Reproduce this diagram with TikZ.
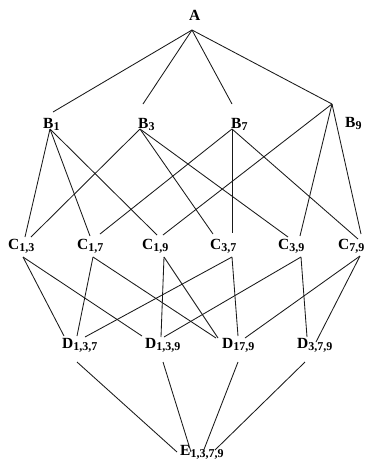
\documentclass[tikz,border=0pt]{standalone}
\usepackage{fontspec}
\setmainfont{Liberation Serif}
\newcommand\lbl[2]{\textbf{#1}\raisebox{-0.3ex}{\fontsize{12}{12}\selectfont\textbf{#2}}}
\begin{document}
\begin{tikzpicture}[x=1pt,y=-1pt,
  lab/.style={anchor=base west,inner sep=0pt,font=\fontsize{15.5}{15.5}\selectfont},
  edge/.style={draw=black!90,line width=0.85pt}]
\useasboundingbox (0,0) rectangle (367,464);
% labels
\node[lab] (A) at (189,20) {\textbf{A}};
\node[lab] (B1) at (43,128) {\lbl{B}{1}};
\node[lab] (B3) at (138,128) {\lbl{B}{3}};
\node[lab] (B7) at (231,128) {\lbl{B}{7}};
\node[lab] (B9) at (345,127) {\lbl{B}{9}};
\node[lab] (C13) at (8,249) {\lbl{C}{1,3}};
\node[lab] (C17) at (77,249) {\lbl{C}{1,7}};
\node[lab] (C19) at (142,249) {\lbl{C}{1,9}};
\node[lab] (C37) at (210,249) {\lbl{C}{3,7}};
\node[lab] (C39) at (278,249) {\lbl{C}{3,9}};
\node[lab] (C79) at (338,249) {\lbl{C}{7,9}};
\node[lab] (D137) at (62,348) {\lbl{D}{1,3,7}};
\node[lab] (D139) at (145,348) {\lbl{D}{1,3,9}};
\node[lab] (D179) at (222,348) {\lbl{D}{17,9}};
\node[lab] (D379) at (297,348) {\lbl{D}{3,7,9}};
\node[lab] (E) at (180,455) {\lbl{E}{1,3,7,9}};
% connector end points
\coordinate (a) at (192,30);
\coordinate (b1t) at (53,112); \coordinate (b1b) at (50,129);
\coordinate (b3t) at (143,104); \coordinate (b3b) at (140,129);
\coordinate (b7t) at (232,104); \coordinate (b7b) at (232,129);
\coordinate (b9) at (332,104);
\coordinate (c13t) at (25,237); \coordinate (c13u) at (31,237); \coordinate (c13b) at (23,257);
\coordinate (c17t) at (90,236); \coordinate (c17u) at (100,234); \coordinate (c17b) at (93,257);
\coordinate (c19t) at (157,235); \coordinate (c19u) at (163,235); \coordinate (c19b) at (164,257);
\coordinate (c37t) at (213,234); \coordinate (c37u) at (232,233); \coordinate (c37b) at (232,257);
\coordinate (c39t) at (288,237); \coordinate (c39u) at (300,236); \coordinate (c39b) at (301,257);
\coordinate (c79t) at (358,239); \coordinate (c79u) at (361,234); \coordinate (c79b) at (360,256);
\coordinate (d137a) at (64,336); \coordinate (d137b) at (77,336); \coordinate (d137c) at (85,337);
\coordinate (d139a) at (142,336); \coordinate (d139b) at (161,337); \coordinate (d139c) at (164,337);
\coordinate (d179a) at (216,338); \coordinate (d179b) at (218,338); \coordinate (d179c) at (238,336); \coordinate (d179d) at (245,338);
\coordinate (d379a) at (307,337); \coordinate (d379b) at (316,342);
\coordinate (d137z) at (77,362); \coordinate (d139z) at (163,362); \coordinate (d179z) at (238,362); \coordinate (d379z) at (305,362);
\coordinate (ea) at (177,452); \coordinate (eb) at (191,452); \coordinate (ec) at (203,452); \coordinate (ed) at (215,450);
% A -> B
\draw[edge] (a) -- (b1t);
\draw[edge] (a) -- (b3t);
\draw[edge] (a) -- (b7t);
\draw[edge] (a) -- (b9);
% B -> C
\draw[edge] (b1b) -- (c13t);
\draw[edge] (b1b) -- (c17t);
\draw[edge] (b1b) -- (c19t);
\draw[edge] (b3b) -- (c13u);
\draw[edge] (b3b) -- (c37t);
\draw[edge] (b3b) -- (c39t);
\draw[edge] (b7b) -- (c17u);
\draw[edge] (b7b) -- (c37u);
\draw[edge] (b7b) -- (c79t);
\draw[edge] (b9) -- (c19u);
\draw[edge] (b9) -- (c39u);
\draw[edge] (b9) -- (c79u);
% C -> D
\draw[edge] (c13b) -- (d137a);
\draw[edge] (c13b) -- (d139a);
\draw[edge] (c17b) -- (d137b);
\draw[edge] (c17b) -- (d179a);
\draw[edge] (c19b) -- (d139b);
\draw[edge] (c19b) -- (d179b);
\draw[edge] (c37b) -- (d137c);
\draw[edge] (c37b) -- (d179c);
\draw[edge] (c39b) -- (d139c);
\draw[edge] (c39b) -- (d379a);
\draw[edge] (c79b) -- (d179d);
\draw[edge] (c79b) -- (d379b);
% D -> E
\draw[edge] (d137z) -- (ea);
\draw[edge] (d139z) -- (eb);
\draw[edge] (d179z) -- (ec);
\draw[edge] (d379z) -- (ed);
\end{tikzpicture}
\end{document}
